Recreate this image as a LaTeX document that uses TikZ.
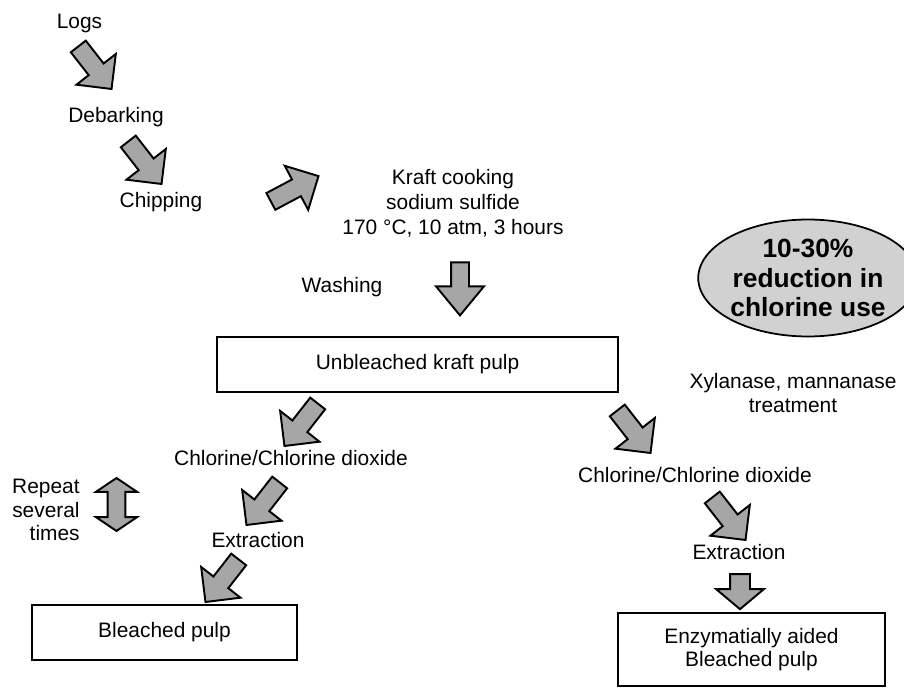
\documentclass[tikz,border=0pt]{standalone}
\usepackage{fontspec}
\setmainfont{Liberation Sans}
\usetikzlibrary{shapes.arrows,shapes.geometric}

\begin{document}
\begin{tikzpicture}[x=0.02cm, y=-0.02cm,
    lbl/.style={font=\fontsize{11.9}{13.4}\selectfont, align=center, inner sep=0pt},
    pulpbox/.style={draw, line width=0.8pt, font=\fontsize{11.9}{13.4}\selectfont,
      align=center, inner sep=0pt},
    fatarrow/.style={single arrow, draw, line width=1.1pt, fill=black!35,
      inner xsep=0pt, inner ysep=0.17cm,
      minimum height=1.08cm, single arrow head extend=0.31cm,
      single arrow tip angle=90},
    downarrow/.style={fatarrow, rotate=-90, inner ysep=0.16cm,
      single arrow head extend=0.3cm}]

      \useasboundingbox (0,0) rectangle (904,688);

      % wood preparation and cooking
      \node[lbl] (logs) at (79.5,23) {Logs};
      \node[lbl] (debark) at (116,117) {Debarking};
      \node[lbl] (chip) at (161,202) {Chipping};
      \node[lbl, font=\fontsize{11.9}{14.2}\selectfont] (kraft) at (453,203)
        {Kraft cooking\\sodium sulfide\\170 °C, 10 atm, 3 hours};
      \node[lbl] (wash) at (342,287) {Washing};

      \node[fatarrow, rotate=-52] (a1) at (92,64) {};
      \node[fatarrow, rotate=-52] (a2) at (142,159) {};
      \node[fatarrow, rotate=28] (a3) at (290.5,191) {};
      \node[downarrow, minimum height=1.06cm, single arrow tip angle=79] (a4) at (460,283.5) {};

      \node[pulpbox, minimum width=8.02cm, minimum height=1.1cm] (unbl) at (417.5,364.5)
        {Unbleached kraft pulp};

      % conventional bleaching
      \node[fatarrow, rotate=-128] (a5) at (304,421) {};
      \node[lbl] (clA) at (291,458) {Chlorine/Chlorine dioxide};
      \node[fatarrow, rotate=-128] (a6) at (266,500) {};
      \node[lbl] (extA) at (258,540) {Extraction};
      \node[fatarrow, rotate=-128] (a7) at (225,577) {};
      \node[pulpbox, minimum width=5.3cm, minimum height=1.1cm] (bleachA) at (164.5,632.5)
        {Bleached pulp};

      \node[lbl, align=right, anchor=east] (rep) at (80,510) {Repeat\\several\\times};
      \node[double arrow, draw, line width=1.1pt, fill=black!35, inner xsep=0pt,
        inner ysep=0.16cm, rotate=90, minimum height=1.06cm,
        double arrow head extend=0.23cm, double arrow tip angle=112] (rr) at (116.5,504.5) {};

      % enzyme aided bleaching
      \node[ellipse, draw, line width=1pt, fill=black!18, inner sep=0pt,
        minimum width=3.8cm, minimum height=2.34cm,
        font=\bfseries\fontsize{15}{17}\selectfont, align=center] (save) at (808,278)
        {10-30\%\\reduction in\\chlorine use};
      \node[lbl] (xyl) at (793,393) {Xylanase, mannanase\\treatment};

      \node[fatarrow, rotate=-52] (a8) at (631,428) {};
      \node[lbl] (clB) at (695,475) {Chlorine/Chlorine dioxide};
      \node[fatarrow, rotate=-52] (a9) at (726,515) {};
      \node[lbl] (extB) at (739,552) {Extraction};
      \node[downarrow, minimum height=0.7cm, inner ysep=0.18cm,
        single arrow head extend=0.28cm, single arrow tip angle=100] (a10) at (740,587.5) {};
      \node[pulpbox, minimum width=5.34cm, minimum height=1.46cm] (bleachB) at (751.5,649.5)
        {Enzymatially aided\\Bleached pulp};

\end{tikzpicture}
\end{document}
